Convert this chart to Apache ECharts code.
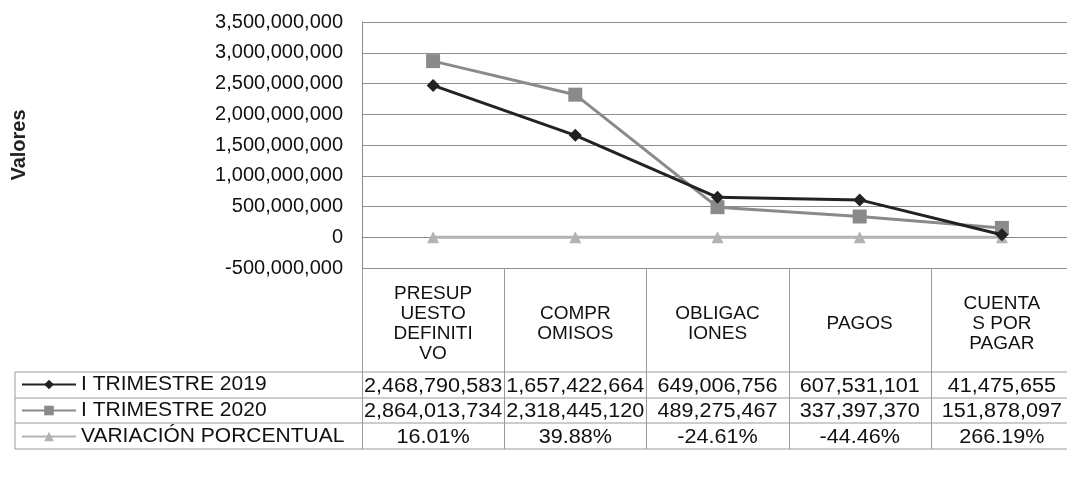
<!DOCTYPE html>
<html>
<head>
<meta charset="utf-8">
<script src="https://cdn.jsdelivr.net/npm/echarts@6/dist/echarts.min.js"></script>
<style>
html,body{margin:0;padding:0;background:#fff;}
#c{width:1067px;height:481px;}
</style>
</head>
<body>
<div id="c"></div>
<script>
// ---- data ----
const categories = ['PRESUP\nUESTO\nDEFINITI\nVO', 'COMPR\nOMISOS', 'OBLIGAC\nIONES', 'PAGOS', 'CUENTA\nS POR\nPAGAR'];
const seriesNames = ['I TRIMESTRE 2019', 'I TRIMESTRE 2020', 'VARIACIÓN PORCENTUAL'];
const trimestre2019 = [2468790583, 1657422664, 649006756, 607531101, 41475655];
const trimestre2020 = [2864013734, 2318445120, 489275467, 337397370, 151878097];
const variacionPct = [16.01, 39.88, -24.61, -44.46, 266.19];
const yTicks = { min: -500000000, max: 3500000000, interval: 500000000 };

const FONT = '"Liberation Sans", Arial, sans-serif';
const fmtNum = v => v.toLocaleString('en-US');
const fmtPct = v => v.toFixed(2) + '%';

const chart = echarts.init(document.getElementById('c'), null, { renderer: 'canvas' });

const colors = ['#222222', '#8a8a8a', '#b3b3b3'];
const symbols = ['diamond', 'rect', 'triangle'];
const symbolSizes = [13, 14, 12];
const dataSets = [trimestre2019, trimestre2020, variacionPct.map(v => v / 100)];

const option = {
  animation: false,
  backgroundColor: '#fff',
  textStyle: { fontFamily: FONT },
  grid: { left: 362, right: -6, top: 22, bottom: 213, containLabel: false, outerBoundsMode: 'none' },
  legend: {
    orient: 'vertical',
    left: 21,
    top: 374,
    padding: 0,
    itemWidth: 54,
    itemHeight: 12,
    itemGap: 5,
    data: seriesNames,
    textStyle: { fontFamily: FONT, fontSize: 21, color: '#111', lineHeight: 21 }
  },
  xAxis: {
    type: 'category',
    data: categories,
    boundaryGap: true,
    axisLine: { show: true, lineStyle: { color: '#8a8a8a', width: 1 } },
    axisTick: { show: false },
    axisLabel: {
      interval: 0, fontFamily: FONT, fontSize: 19, lineHeight: 20, color: '#111',
      verticalAlign: 'middle', margin: 56
    },
    splitLine: { show: false }
  },
  yAxis: {
    type: 'value',
    min: yTicks.min, max: yTicks.max, interval: yTicks.interval,
    name: 'Valores',
    nameLocation: 'middle',
    nameRotate: 90,
    nameGap: 333,
    nameTextStyle: { fontFamily: FONT, fontSize: 20, fontWeight: 'bold', color: '#222' },
    axisLine: { show: true, lineStyle: { color: '#8a8a8a', width: 1 } },
    axisTick: { show: false },
    axisLabel: { fontFamily: FONT, fontSize: 20, color: '#111', margin: 19, formatter: v => fmtNum(v) },
    splitLine: { show: true, lineStyle: { color: '#8f8f8f', width: 1 } }
  },
  series: seriesNames.map((n, i) => ({
    name: n,
    type: 'line',
    data: dataSets[i],
    color: colors[i],
    symbol: symbols[i],
    symbolSize: symbolSizes[i],
    showSymbol: true,
    lineStyle: { width: 3, color: colors[i] },
    itemStyle: { color: colors[i] },
    z: 3 - i
  }))
};
chart.setOption(option);

// ---- data table below the plot ----
const plotBottom = 268;
const rowTops = [372, 398, 423, 449];
const tableLeft = 15, tableRight = 1067;
const graphics = [];
const lineStyle = { stroke: '#9a9a9a', lineWidth: 1 };
rowTops.forEach(y => {
  graphics.push({ type: 'line', shape: { x1: tableLeft, y1: y, x2: tableRight, y2: y }, style: lineStyle });
});
graphics.push({ type: 'line', shape: { x1: tableLeft, y1: rowTops[0], x2: tableLeft, y2: rowTops[3] }, style: lineStyle });

// column dividers at category boundaries (from the axis scale)
const centers = categories.map((_, c) => chart.convertToPixel({ xAxisIndex: 0 }, c));
const half = (centers[1] - centers[0]) / 2;
centers.forEach(cx => {
  const bx = Math.round(cx - half) + 0.5;
  graphics.push({ type: 'line', shape: { x1: bx, y1: plotBottom, x2: bx, y2: rowTops[3] }, style: lineStyle });
});

const rowTexts = [trimestre2019.map(fmtNum), trimestre2020.map(fmtNum), variacionPct.map(fmtPct)];
rowTexts.forEach((row, r) => {
  const cy = (rowTops[r] + rowTops[r + 1]) / 2 + 1;
  row.forEach((t, c) => {
    graphics.push({
      type: 'text', x: centers[c], y: cy, scaleX: 1.08,
      style: { text: t, fontFamily: FONT, fontSize: 20, fill: '#111', align: 'center', verticalAlign: 'middle' }
    });
  });
});
chart.setOption({ graphic: graphics });
</script>
</body>
</html>
